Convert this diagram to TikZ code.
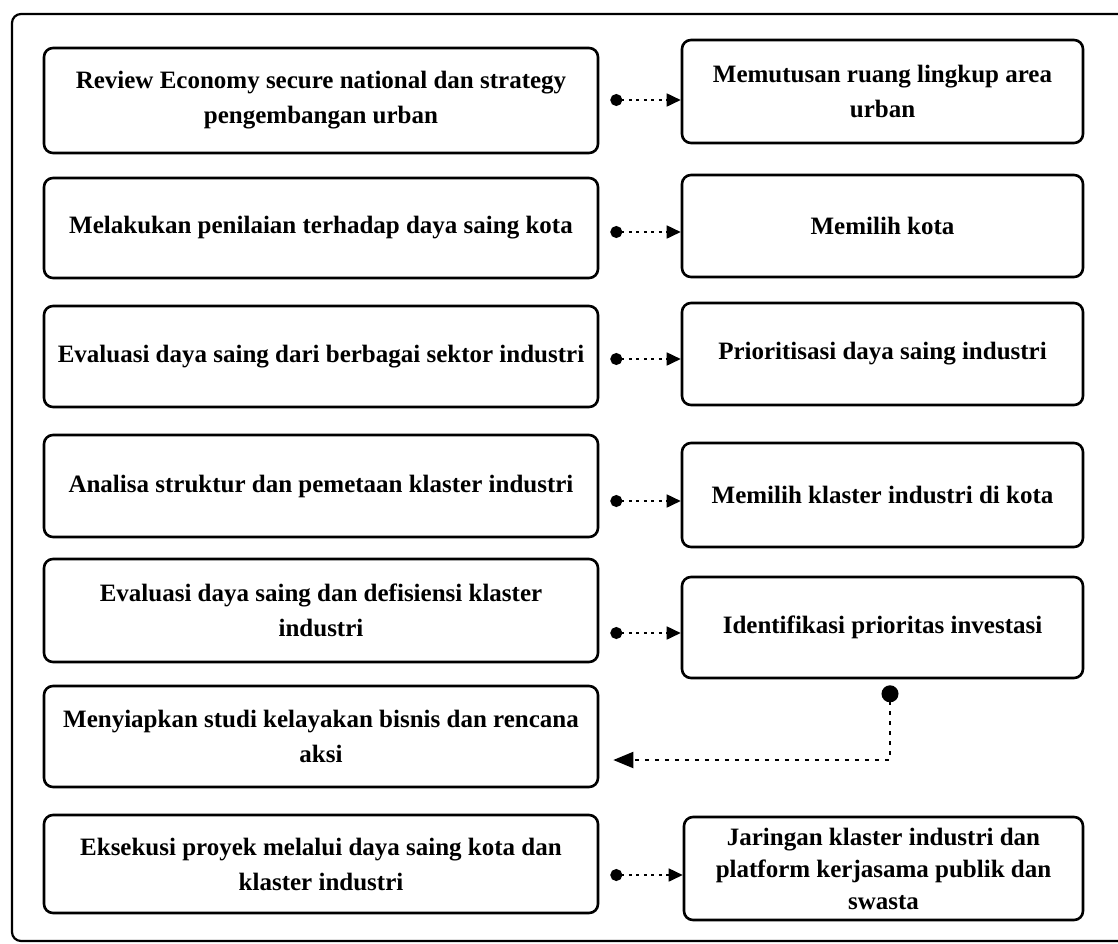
\documentclass[tikz,border=0pt]{standalone}
\usepackage{fontspec}
\setmainfont{Liberation Serif}
\usetikzlibrary{arrows.meta}
\begin{document}
\begin{tikzpicture}[x=1pt,y=-1pt,
  stepbox/.style={draw=black, line width=2.6pt, rounded corners=9pt,
    align=center, inner sep=0pt, font=\bfseries\fontsize{25}{35}\selectfont},
  lbox/.style={stepbox, minimum width=554pt},
  rbox/.style={stepbox, minimum width=401pt},
  link/.style={line width=1.7pt, dash pattern=on 3pt off 4.5pt,
    {Circle[length=12pt,width=12pt]}-{Triangle[length=14pt,width=13pt]},
    shorten <=11pt},
  back/.style={line width=2pt, dash pattern=on 4pt off 6pt,
    {Circle[length=17pt,width=17pt]}-{Triangle[length=20pt,width=16pt]},
    shorten <=6pt, shorten >=14pt}
]
\useasboundingbox (0,0) rectangle (1118,943);
\fill[white] (0,0) rectangle (1118,943);

% outer frame: its right side lies beyond the edge of the sheet
\begin{scope}
  \clip (0,0) rectangle (1118,943);
  \draw[line width=2.2pt, rounded corners=9pt]
    (1130,14) -- (12,14) -- (12,941) -- (1130,941);
\end{scope}

% left column
\node[lbox, minimum height=105pt] (L1) at (321,100.5)
  {Review Economy secure national dan strategy\\pengembangan urban};
\node[lbox, minimum height=100pt] (L2) at (321,228)
  {Melakukan penilaian terhadap daya saing kota};
\node[lbox, minimum height=101pt] (L3) at (321,356.5)
  {Evaluasi daya saing dari berbagai sektor industri};
\node[lbox, minimum height=102pt] (L4) at (321,486)
  {Analisa struktur dan pemetaan klaster industri};
\node[lbox, minimum height=103pt] (L5) at (321,610.5)
  {Evaluasi daya saing dan defisiensi klaster\\industri};
\node[lbox, minimum height=101pt] (L6) at (321,736.5)
  {Menyiapkan studi kelayakan bisnis dan rencana\\aksi};
\node[lbox, minimum height=98pt] (L7) at (321,864)
  {Eksekusi proyek melalui daya saing kota dan\\klaster industri};

% right column
\node[rbox, minimum height=103pt] (R1) at (882.5,91.5)
  {Memutusan ruang lingkup area\\urban};
\node[rbox, minimum height=102pt] (R2) at (882.5,226)
  {Memilih kota};
\node[rbox, minimum height=102pt] (R3) at (882.5,354)
  {Prioritisasi daya saing industri};
\node[rbox, minimum height=104pt] (R4) at (882.5,495)
  {Memilih klaster industri di kota};
\node[rbox, minimum height=101pt] (R5) at (882.5,627.5)
  {Identifikasi prioritas investasi};
\node[rbox, minimum width=399pt, minimum height=103pt,
  font=\bfseries\fontsize{25}{32}\selectfont] (R7) at (883.5,868.5)
  {Jaringan klaster industri dan\\platform kerjasama publik dan\\swasta};

% heights of the horizontal links
\coordinate (y1) at (0,100);
\coordinate (y2) at (0,232);
\coordinate (y3) at (0,359);
\coordinate (y4) at (0,501);
\coordinate (y5) at (0,633);
\coordinate (y7) at (0,875);

\draw[link] (L1.east |- y1) -- (R1.west |- y1);
\draw[link] (L2.east |- y2) -- (R2.west |- y2);
\draw[link] (L3.east |- y3) -- (R3.west |- y3);
\draw[link] (L4.east |- y4) -- (R4.west |- y4);
\draw[link] (L5.east |- y5) -- (R5.west |- y5);
\draw[link] (L7.east |- y7) -- (R7.west |- y7);

% return link from the investment priorities to the action plan
\coordinate (turn) at (890,760);
\draw[back] (R5.south -| turn) -- (turn) -- (L6.east |- turn);
\end{tikzpicture}
\end{document}
